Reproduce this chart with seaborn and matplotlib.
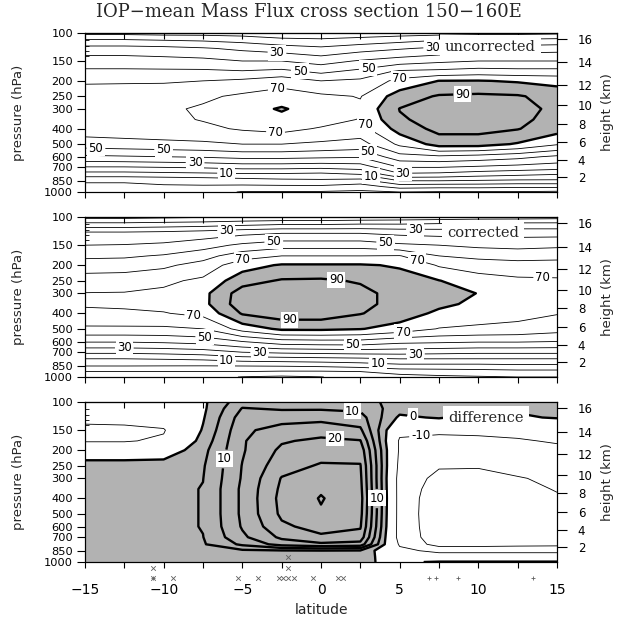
import numpy as np
import matplotlib
matplotlib.use("Agg")
import matplotlib.pyplot as plt
import matplotlib.transforms as mtransforms
from matplotlib.ticker import FixedLocator, FixedFormatter, NullLocator, NullFormatter
import seaborn as sns

# ---------------- data ----------------
latitudes = [-15, -12.5, -10, -7.5, -5, -2.5, 0, 2.5, 5, 7.5, 10, 12.5, 15]
pressures = [100, 110, 125, 150, 175, 200, 250, 300, 350, 400, 500, 600, 700, 775, 850, 925, 1000]

# one list per latitude column, values from 100 hPa down to 1000 hPa
uncorrected = [
    [7, 20, 34, 45, 52, 59, 64, 66, 66, 65, 55, 38, 19, 5, -9, -12, -12],
    [7, 20, 34, 45, 52, 59, 65, 67, 67, 66, 56, 39, 19, 5, -9, -12, -12],
    [6, 19, 33, 44, 52, 59, 66, 68, 68, 67, 57, 40, 20, 6, -8, -11, -12],
    [6, 18, 31, 43, 52, 60, 68, 71.5, 70.5, 68, 58, 41, 21, 7, -7, -11, -14],
    [5, 16, 28, 40, 51, 62, 72, 76, 74, 71, 60, 43, 23, 8, -5, -12, -21],
    [3, 12, 25, 40, 53, 66, 75, 81, 77, 73, 60, 43, 23, 8, -3, -12, -21],
    [3, 11, 22, 36, 48, 60, 72, 75, 74, 69, 58, 42, 22, 7, -2, -12, -21],
    [4, 13, 26, 41, 53, 62, 69.5, 72, 69.5, 66, 56, 41, 24, 10, -4, -15, -22],
    [5, 16, 29, 45, 62, 73, 85, 90.3, 89, 84, 72, 56, 40, 28, 10, -6, -20],
    [6, 19, 32, 48, 63, 80.2, 91, 94, 93, 93, 84, 58, 40, 27, 10, -7, -21],
    [7, 20, 34, 50, 65, 80.5, 92, 95, 94, 93, 84, 56, 38, 24, 9, -7, -21],
    [7, 21, 35, 50, 64, 79, 91, 93, 92, 90.5, 79, 53, 36, 22, 8, -8, -21],
    [8, 22, 36, 50, 64, 77, 86, 88, 87, 84, 71, 48, 34, 20, 8, -8, -22],
]

corrected = [
    [-3, 12, 31, 40, 48, 55, 65, 70.3, 71, 68, 58, 41, 22, 9, 0.5, -10, -13],
    [-3, 12, 31, 40.5, 48.5, 55.5, 65.5, 70.5, 71.5, 68.5, 58, 41, 22, 9, 0.5, -10, -13],
    [-2, 13, 32, 42, 51, 58, 68, 72, 72.5, 69.5, 58, 42, 23, 10, 0.3, -10, -14],
    [-1, 14, 34, 46, 56, 64, 72, 77, 77, 72.5, 60, 44, 25, 11, 0.2, -10, -16],
    [0.5, 16, 37, 52, 66, 76, 86, 95, 96, 91, 74, 50, 30, 14, 0.5, -10, -20.5],
    [1, 18, 39, 56, 70, 81, 91, 96, 97, 95, 82, 56, 32, 15, 1, -11, -22],
    [1, 18, 39, 56, 70, 81, 91.5, 96, 97, 95, 82, 57, 33, 16, 2, -11, -20.3],
    [2, 19, 39, 56, 70, 81, 89, 93, 93, 90.5, 80.5, 57, 34, 17, 4, -10, -16],
    [3, 19, 37, 52, 70.5, 79, 84, 86, 86, 85, 76, 53, 34, 19, 7, -6, -14],
    [4, 20, 36, 50, 60, 69, 80.3, 83, 82, 78, 69.5, 52, 33, 19, 7, -5, -12],
    [5, 21, 36, 48, 57, 66, 74, 79.8, 78, 75, 68, 51, 32, 19, 7, -4, -11],
    [5, 22, 36, 47, 56, 64, 72, 76, 76, 73, 67, 51, 32, 19, 8, -3, -10],
    [6, 22, 36, 48, 57, 64, 71.5, 75, 74, 70.5, 64, 50, 32, 19, 8, -3, -10],
]

difference = [
    [-4, -6, -8, -12, -10.5, -5, 3, 3, 3, 3, 3, 3, 3, 3, 3, 2, 2],
    [-4, -6, -8, -11.5, -10.5, -5, 3, 3, 3, 3, 3, 3, 3, 3, 3, 2, 2],
    [-2, -4, -7, -10.5, -9, -4, 3, 3.5, 3.5, 3.5, 3.5, 3.5, 3.5, 3.5, 3, 2, 2],
    [-1, -1, -0.5, 0.5, 2, 3.5, 4.5, 4.9, 5.2, 5.2, 5.2, 5.2, 4.9, 4.5, 3.5, 2.5, 2],
    [8, 10.3, 12.5, 14, 14.5, 14.5, 15.2, 15.5, 16, 16, 16, 15.5, 14, 11, 4, 3, 2],
    [8, 9.5, 13, 17, 19.5, 21, 23, 25.3, 26, 26.5, 26, 24, 21, 17, 4.5, 3, 2],
    [8, 9.5, 13.5, 18, 21, 23, 25.5, 28, 29.5, 30.3, 29.5, 27, 24, 19, 4.8, 3, 2],
    [7, 9, 12, 16, 20.3, 23, 25.3, 26, 26.5, 27, 26.5, 25.5, 23, 18, 4.5, 3, 0.5],
    [3, 2, -1, -8, -11, -11, -12, -13, -13, -13, -13, -13, -13, -11, -8, -5, -0.8],
    [3, 2, 0.5, -8, -13, -16, -19, -23, -25.5, -27, -27.5, -27, -26, -24, -12, -6, 0.5],
    [1, 0.5, -2, -8, -12, -15, -19.5, -22, -24.5, -26, -27, -27, -26, -24, -12, -6, 0.5],
    [1, 0.5, -0.5, -7, -11, -14, -17.5, -20.5, -22.5, -24, -25.5, -26, -25.5, -23, -12, -6, 0.5],
    [1, 1, 0.3, -5, -9, -12.5, -16, -18.5, -19.5, -21, -23, -24, -24, -22.5, -12, -6, 0.5],
]

pressure_ticks = [100, 150, 200, 250, 300, 400, 500, 600, 700, 850, 1000]
height_km = [2, 4, 6, 8, 10, 12, 14, 16]
height_pressure = [805, 629, 485, 373, 284, 212, 153, 109]
lat_tick_values = [-15, -12.5, -10, -7.5, -5, -2.5, 0, 2.5, 5, 7.5, 10, 12.5, 15]
lat_tick_labels = ["\u221215", "", "\u221210", "", "\u22125", "", "0", "", "5", "", "10", "", "15"]

# sounding stations marked under the lower panel
station_x_row1 = [-10.7, -2.1]
station_x_row2 = [-10.7, -9.4, -5.3, -4.0, -2.7, -2.4, -2.1, -1.7, -0.5, 1.05, 1.4]
station_x_inside = [-2.1]
station_plus_row2 = [-10.7, 6.85, 7.3, 8.7, 13.5]

panel_names = ["uncorrected", "corrected", "difference"]

# contour level sets (labelled / unlabelled, thin / thick)
levels_flux = dict(thin_lab=[10, 30, 50, 70], thin_unlab=[-20, -10, 0, 20, 40, 60],
                   thick_lab=[90], thick_unlab=[80], shade=[80, 500])
levels_diff = dict(thin_lab=[-10], thin_unlab=[-20],
                   thick_lab=[0, 10, 20], thick_unlab=[5, 15, 25, 30], shade=[0, 500])

# ---------------- style ----------------
sns.set_theme(style="ticks")
plt.rcParams["font.family"] = ["DejaVu Sans"]
plt.rcParams["axes.linewidth"] = 0.8
plt.rcParams["axes.edgecolor"] = "black"
plt.rcParams["xtick.color"] = "black"
plt.rcParams["ytick.color"] = "black"
plt.rcParams["contour.negative_linestyle"] = "solid"

GRAY = "#b2b2b2"
THIN = 0.6
THICK = 1.7

fig = plt.figure(figsize=(6.18, 6.24), dpi=100)
W, H = 618.0, 624.0
X0, X1 = 85, 557
panel_px = [(33, 192), (217, 377), (402, 562)]

lat = np.array(latitudes)
pres = np.array(pressures)

label_pos = {
    0: dict(thin=[(-2.8, 134), (7.1, 124), (-1.3, 166), (3, 166), (5, 187), (-2.8, 216),
                  (-2.9, 438), (2.6, 396), (-14.3, 516), (-10, 516), (3, 549), (-8, 636),
                  (5.2, 760), (-6, 745), (3.2, 780)],
            thick=[(9, 240)]),
    1: dict(thin=[(-6, 122), (6, 127), (-3, 143), (4.1, 149), (-5, 182), (6, 203), (14.1, 226),
                  (-8.1, 428), (5.2, 500), (-7.4, 575), (2, 634), (-12.5, 664), (-3.9, 712),
                  (6, 712), (-6, 782), (3.6, 852)],
            thick=[(1, 230), (-2, 460)]),
    2: dict(thin=[(6.4, 196)],
            thick=[(5.8, 130), (-5.8, 230), (2, 113), (3.7, 400), (0.9, 165)]),
}
text_pos = [(10.75, 122), (10.3, 125), (10.5, 126)]


def style_labels(texts):
    for t in texts:
        t.set_rotation(0)
        t.set_bbox(dict(boxstyle="square,pad=0.12", fc="white", ec="none"))
        t.set_zorder(6)


axes = []
for i, (top, bot) in enumerate(panel_px):
    ax = fig.add_axes([X0 / W, 1 - bot / H, (X1 - X0) / W, (bot - top) / H])
    axes.append(ax)
    ax.set_facecolor("white")
    ax.set_yscale("log")
    ax.set_ylim(1000, 100)
    ax.set_xlim(-15, 15)

    data = [uncorrected, corrected, difference][i]
    lv = levels_flux if i < 2 else levels_diff
    Z = np.array(data, dtype=float).T

    ax.contourf(lat, pres, Z, levels=lv["shade"], colors=[GRAY], zorder=1)
    ax.contour(lat, pres, Z, levels=lv["thin_unlab"], colors="black", linewidths=THIN,
               linestyles="solid", zorder=2)
    cs_thin = ax.contour(lat, pres, Z, levels=lv["thin_lab"], colors="black",
                         linewidths=THIN, linestyles="solid", zorder=2)
    ax.contour(lat, pres, Z, levels=lv["thick_unlab"], colors="black", linewidths=THICK,
               linestyles="solid", zorder=3)
    cs_thick = ax.contour(lat, pres, Z, levels=lv["thick_lab"], colors="black",
                          linewidths=THICK, linestyles="solid", zorder=3)
    t1 = ax.clabel(cs_thin, manual=label_pos[i]["thin"], inline=True, inline_spacing=2,
                   fmt="%d", fontsize=8.5)
    t2 = ax.clabel(cs_thick, manual=label_pos[i]["thick"], inline=True, inline_spacing=2,
                   fmt="%d", fontsize=8.5)
    style_labels(t1)
    style_labels(t2)

    ax.text(text_pos[i][0], text_pos[i][1], panel_names[i], ha="center", va="center",
            family="DejaVu Serif", fontsize=10.5, zorder=7,
            bbox=dict(boxstyle="square,pad=0.35", fc="white", ec="none"))

    # left pressure axis
    ax.yaxis.set_major_locator(FixedLocator(pressure_ticks))
    ax.yaxis.set_major_formatter(FixedFormatter([str(p) for p in pressure_ticks]))
    ax.yaxis.set_minor_locator(FixedLocator([110, 120, 130, 140]))
    ax.yaxis.set_minor_formatter(NullFormatter())
    ax.tick_params(axis="y", which="major", direction="out", length=6, width=0.8,
                   pad=2.5, labelsize=8.2, left=True, right=False)
    ax.tick_params(axis="y", which="minor", direction="in", length=3, width=0.6,
                   left=True, right=True, labelleft=False, labelright=False)
    ax.set_ylabel("pressure (hPa)", fontsize=9.5)
    ax.yaxis.set_label_coords(-0.128, 0.5)

    # bottom latitude axis
    ax.xaxis.set_major_locator(FixedLocator(lat_tick_values))
    if i == 2:
        ax.xaxis.set_major_formatter(FixedFormatter(lat_tick_labels))
        ax.tick_params(axis="x", which="major", direction="out", length=4, width=0.8,
                       pad=11, labelsize=10)
    else:
        ax.xaxis.set_major_formatter(FixedFormatter([""] * len(lat_tick_values)))
        ax.tick_params(axis="x", which="major", direction="out", length=4, width=0.8)
    ax.xaxis.set_minor_locator(NullLocator())

    # top inward ticks
    sec = ax.secondary_xaxis("top")
    sec.xaxis.set_major_locator(FixedLocator(lat_tick_values))
    sec.xaxis.set_major_formatter(NullFormatter())
    sec.tick_params(axis="x", direction="in", length=4, width=0.8, labeltop=False)
    sec.xaxis.set_minor_locator(NullLocator())

    # right height axis
    ax2 = ax.twinx()
    ax2.set_yscale("log")
    ax2.set_ylim(1000, 100)
    ax2.yaxis.set_major_locator(FixedLocator(height_pressure))
    ax2.yaxis.set_major_formatter(FixedFormatter([str(h) for h in height_km]))
    ax2.yaxis.set_minor_locator(NullLocator())
    ax2.yaxis.set_minor_formatter(NullFormatter())
    ax2.tick_params(axis="y", which="major", direction="out", length=7, width=0.8,
                    pad=8, labelsize=8.5)
    ax2.set_ylabel("height (km)", fontsize=9.5)
    ax2.yaxis.set_label_coords(1.093, 0.5)
    for s in ax2.spines.values():
        s.set_linewidth(0.8)
        s.set_color("black")

# station markers under the lower panel
ax3 = axes[2]
trans = mtransforms.blended_transform_factory(ax3.transData, ax3.transAxes)
mk = dict(transform=trans, clip_on=False, color="#606060", s=11, linewidths=0.6, zorder=8)
ax3.scatter(station_x_row1, [-0.037] * len(station_x_row1), marker="x", **mk)
ax3.scatter(station_x_row2, [-0.10] * len(station_x_row2), marker="x", **mk)
ax3.scatter(station_x_inside, [0.03] * len(station_x_inside), marker="x", **mk)
ax3.scatter(station_plus_row2, [-0.10] * len(station_plus_row2), marker="+", **mk)

fig.text(0.5, 1 - 12 / H, "IOP\u2212mean Mass Flux cross section 150\u2212160E",
         ha="center", va="center", family="DejaVu Serif", fontsize=13)
fig.text((X0 + X1) / 2 / W, 1 - 610 / H, "latitude", ha="center", va="center", fontsize=10)

fig.savefig("out.png", dpi=100, facecolor="white")
